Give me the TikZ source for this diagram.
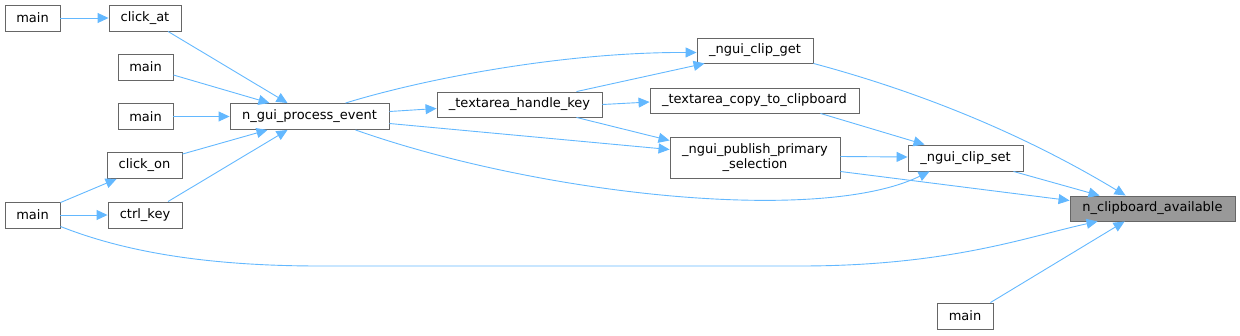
\documentclass[tikz,border=0pt]{standalone}
\usepackage{fontspec}
\setmainfont{DejaVu Sans}
\usetikzlibrary{arrows.meta,calc}
\definecolor{edgec}{HTML}{63B8FF}
\definecolor{boxc}{HTML}{666666}
\definecolor{hil}{HTML}{999999}
\tikzset{
  fn/.style={draw=boxc,line width=0.9pt,fill=white,inner sep=0pt,font=\fontsize{13}{14.5}\selectfont,text=black,align=center,minimum height=26pt},
  hl/.style={fn,fill=hil},
  call/.style={draw=edgec,line width=0.9pt,-{Triangle[length=11pt,width=10pt]}}
}
\begin{document}
\begin{tikzpicture}[x=1pt,y=-1pt]
\useasboundingbox (0,0) rectangle (1240,335);
% nodes
\node[fn,minimum width=55pt] (m1) at (32.5,18) {main};
\node[fn,minimum width=72pt] (clickat) at (145,18) {click\_at};
\node[fn,minimum width=55pt] (m2) at (145.5,67) {main};
\node[fn,minimum width=55pt] (m3) at (145.5,116.5) {main};
\node[fn,minimum width=159pt] (ngpe) at (309.5,116.5) {n\_gui\_process\_event};
\node[fn,minimum width=75pt] (clickon) at (144.5,165.5) {click\_on};
\node[fn,minimum width=55pt] (m4) at (32.5,215) {main};
\node[fn,minimum width=74pt] (ctrl) at (145,215) {ctrl\_key};
\node[fn,minimum width=116pt,minimum height=25pt] (clipget) at (755,50.5) {\_ngui\_clip\_get};
\node[fn,minimum width=165pt,minimum height=25pt] (hkey) at (519.5,104.5) {\_textarea\_handle\_key};
\node[fn,minimum width=209pt,minimum height=25pt] (copy) at (754.5,100.5) {\_textarea\_copy\_to\_clipboard};
\node[fn,minimum width=170pt,minimum height=41pt] (pub) at (755,157.5) {\_ngui\_publish\_primary\\\_selection};
\node[fn,minimum width=115pt] (clipset) at (965.5,158) {\_ngui\_clip\_set};
\node[hl,minimum width=165pt,minimum height=25pt] (nca) at (1152.5,208.5) {n\_clipboard\_available};
\node[fn,minimum width=56pt] (m5) at (965,316) {main};
% edges
\draw[call] (m1.east) -- (clickat.west);
\draw[call] ($(clickat.south)+(23,0)$) -- ($(ngpe.north)+(-22,0)$);
\draw[call] ($(m2.east)+(0,8)$) -- ($(ngpe.north)+(-40,0)$);
\draw[call] (m3.east) -- (ngpe.west);
\draw[call] ($(clickon.north east)+(0,2)$) -- ($(ngpe.south)+(-42,0)$);
\draw[call] ($(ctrl.north)+(23,0)$) -- ($(ngpe.south)+(-22,0)$);
\draw[call] ($(m4.north east)+(0,1)$) -- ($(clickon.south west)+(10,0)$);
\draw[call] (m4.east) -- (ctrl.west);
\draw[call] ($(m4.south east)+(0,-2)$) .. controls (120,250) and (200,266) .. (320,266) -- (800,266) .. controls (950,266) and (1030,236) .. ($(nca.south west)+(28,0)$);
\draw[call] ($(ngpe.north)+(36,0)$) .. controls (420,80) and (560,52) .. ($(clipget.west)+(0,2)$);
\draw[call] ($(ngpe.east)+(0,-5)$) -- ($(hkey.west)+(0,4)$);
\draw[call] ($(ngpe.east)+(0,7)$) -- ($(pub.west)+(0,-8)$);
\draw[call] ($(ngpe.south)+(46,0)$) .. controls (540,195) and (820,225) .. ($(clipset.south west)+(22,0)$);
\draw[call] ($(hkey.north)+(57,0)$) -- ($(clipget.south west)+(8,0)$);
\draw[call] (hkey.east) -- ($(copy.west)+(0,1.5)$);
\draw[call] ($(hkey.south)+(57,0)$) -- ($(pub.west)+(0,-17)$);
\draw[call] ($(clipget.south east)+(0,0)$) .. controls (950,100) and (1050,150) .. ($(nca.north west)+(56,0)$);
\draw[call] ($(copy.south)+(66,0)$) -- ($(clipset.north west)+(17,0)$);
\draw[call] ($(pub.east)+(0,-1)$) -- ($(clipset.west)+(0,-1)$);
\draw[call] ($(pub.east)+(0,14)$) -- ($(nca.west)+(0,-8)$);
\draw[call] ($(clipset.south east)+(-10,0)$) -- ($(nca.north west)+(30,0)$);
\draw[call] ($(m5.north east)+(-3,0)$) -- ($(nca.south west)+(55,0)$);
\end{tikzpicture}
\end{document}
